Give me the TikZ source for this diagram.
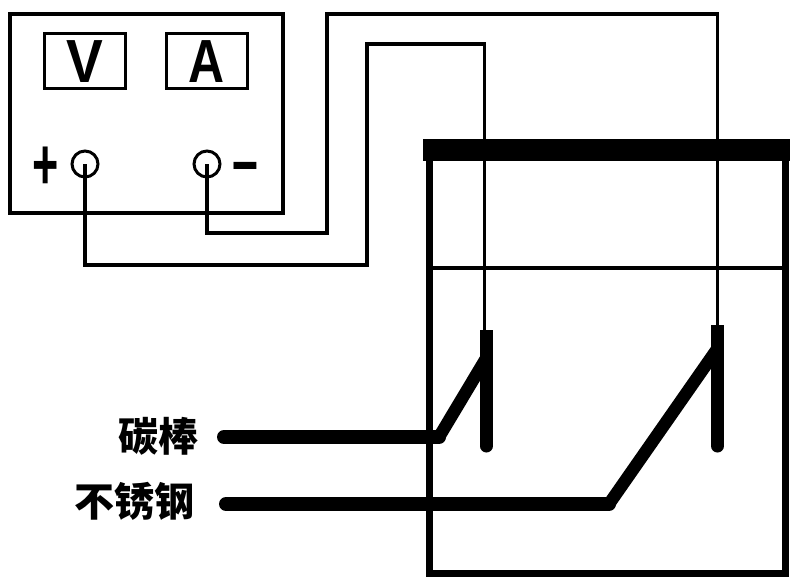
\documentclass[tikz,border=0pt]{standalone}
\usepackage{fontspec}
\setmainfont{Liberation Sans}
\newfontfamily\cjk{Noto Sans CJK SC}
\tikzset{
  thinwire/.style={draw=black,line width=3.6pt,line join=miter},
  boxline/.style={draw=black,line width=3.7pt},
  rod/.style={draw=black,line width=13pt},
  lead/.style={draw=black,line width=14pt},
  slant/.style={draw=black,line width=12.5pt},
  term/.style={circle,draw=black,line width=3pt,minimum size=26pt,inner sep=0pt},
  meter/.style={rectangle,draw=black,line width=3pt,minimum width=81pt,minimum height=55.5pt,inner sep=0pt,font=\bfseries\fontsize{58}{58}\selectfont},
  lab/.style={font=\cjk\bfseries\fontsize{40}{40}\selectfont,inner sep=0pt,anchor=east}
}
\begin{document}
\begin{tikzpicture}[x=1pt,y=-1pt]
\useasboundingbox (0,0) rectangle (806,587);
% instrument
\node[rectangle,boxline,minimum width=273pt,minimum height=198.7pt,inner sep=0pt] (inst) at (146.5,113.3) {};
\node[meter] (v) at (85,61.2) {\scalebox{0.95}[1.05]{V}};
\node[meter] (a) at (207,61.2) {\scalebox{0.86}[1.05]{A}};
\node[term] (tp) at (85,164) {};
\node[term] (tm) at (207,164) {};
\node[inner sep=0pt,font=\bfseries\fontsize{50}{50}\selectfont] (plus) at (46,168) {\scalebox{0.9}[1.45]{+}};
\node[inner sep=0pt,font=\bfseries\fontsize{60}{60}\selectfont] (minus) at (245,172) {\scalebox{1.5}[1]{-}};
% cell
\node[rectangle,draw=black,line width=7pt,minimum width=356pt,minimum height=424pt,inner sep=0pt] (cell) at (607.5,361) {};
\fill (423,139) rectangle (790,160.5);
\coordinate (liqL) at (cell.west |- 0,268);
\coordinate (liqR) at (cell.east |- 0,268);
\draw[thinwire] (liqL) -- (liqR);
% electrodes
\coordinate (e1t) at (486.3,330);
\coordinate (e1m) at (486.3,400);
\coordinate (e1b) at (486.3,446);
\coordinate (e1j) at (486.3,358);
\coordinate (e1k) at (439,437);
\coordinate (e1s) at (224,437);
\coordinate (e2t) at (717.5,325);
\coordinate (e2m) at (717.5,400);
\coordinate (e2b) at (717.5,446);
\coordinate (e2j) at (717.5,348.5);
\coordinate (e2k) at (609,504);
\coordinate (e2s) at (226,504);
\draw[rod] (e1t) -- (e1m);
\draw[rod,line cap=round] (e1m) -- (e1b);
\draw[rod] (e2t) -- (e2m);
\draw[rod,line cap=round] (e2m) -- (e2b);
\draw[lead,line cap=round] (e1s) -- (e1k);
\draw[lead,line cap=round] (e2s) -- (e2k);
\draw[slant] (e1k) -- (e1j);
\draw[slant] (e2k) -- (e2j);
% wires
\coordinate (w1a) at (85,265);
\coordinate (w1b) at (367,265);
\coordinate (w1c) at (367,43.7);
\coordinate (w1d) at (484.5,43.7);
\draw[thinwire] (tp.center) -- (w1a) -- (w1b) -- (w1c) -- (w1d) -- (w1d |- e1t);
\coordinate (w2a) at (207,232.7);
\coordinate (w2b) at (327,232.7);
\coordinate (w2c) at (327,14);
\coordinate (w2d) at (717.5,14);
\draw[thinwire] (tm.center) -- (w2a) -- (w2b) -- (w2c) -- (w2d) -- (e2t);
% labels
\node[lab] (l1) at (199,436) {碳棒};
\node[lab] (l2) at (195,501) {不锈钢};
\end{tikzpicture}
\end{document}
